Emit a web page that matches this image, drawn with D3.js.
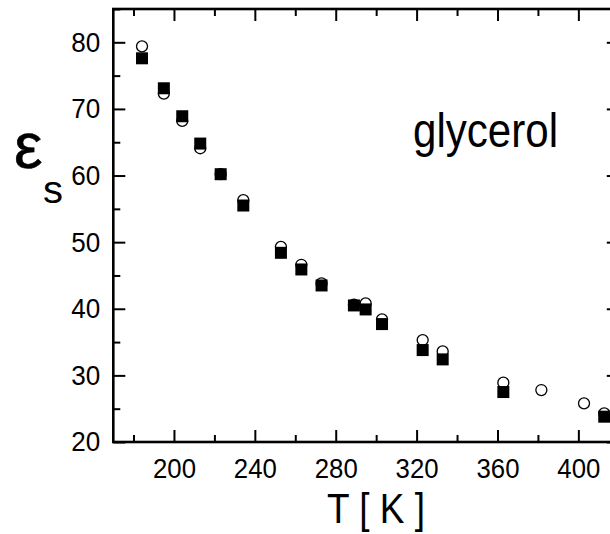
<!DOCTYPE html>
<html>
<head>
<meta charset="utf-8">
<script src="https://cdn.jsdelivr.net/npm/d3@7"></script>
<style>
  html, body { margin: 0; padding: 0; background: #fff; }
  svg { display: block; }
  text { font-family: "Liberation Sans", Arial, sans-serif; fill: #000; }
</style>
</head>
<body>
<svg id="chart" width="610" height="534"></svg>
<script>
// Static dielectric constant of glycerol vs temperature
const circleT   = [184.2, 195, 204.1, 213, 223.1, 234.3, 252.9, 263, 273, 289, 294.8, 302.9, 323, 332.9, 362.9, 381.7, 402.8, 412.8];
const circleEps = [79.4, 72.3, 68.2, 64.1, 60.2, 56.3, 49.3, 46.6, 43.8, 40.6, 40.8, 38.4, 35.3, 33.6, 28.9, 27.8, 25.8, 24.3];
const squareT   = [184.2, 195, 204.1, 213, 223.1, 234.3, 252.9, 263, 273, 289, 294.8, 302.9, 323, 332.9, 362.9, 412.8];
const squareEps = [77.6, 73.1, 68.9, 64.8, 60.2, 55.5, 48.4, 45.9, 43.5, 40.5, 39.9, 37.7, 33.8, 32.4, 27.5, 23.8];

const xMajor = [200, 240, 280, 320, 360, 400, 440];
const xMinor = [180, 220, 260, 300, 340, 380, 420];
const xLabels = ["200", "240", "280", "320", "360", "400"];
const yMajor = [20, 30, 40, 50, 60, 70, 80];
const yMinor = [25, 35, 45, 55, 65, 75, 85];

const svg = d3.select("#chart");
const plotL = 113.3, plotR = 618.8, plotT = 9, plotB = 442;

const x = d3.scaleLinear().domain([170, 420]).range([plotL, plotR]);
const y = d3.scaleLinear().domain([20, 85]).range([plotB, plotT]);

const tickFont = 28;

function styleAxis(g, withLabels) {
  g.select(".domain").remove();
  g.selectAll(".tick line").attr("stroke", "#000").attr("stroke-width", 2);
  if (!withLabels) g.selectAll(".tick text").remove();
}

// bottom axis
svg.append("g").attr("transform", `translate(0,${plotB})`)
  .call(d3.axisBottom(x).tickValues(xMajor).tickSize(-12).tickPadding(16)
    .tickFormat(d => xLabels.includes(String(d)) ? String(d) : ""))
  .call(g => styleAxis(g, true))
  .call(g => g.selectAll(".tick text")
    .attr("font-size", tickFont)
    .attr("font-family", "Liberation Sans, Arial, sans-serif")
    .attr("textLength", d => xLabels.includes(String(d)) ? 43 : null)
    .attr("lengthAdjust", "spacingAndGlyphs"));
svg.append("g").attr("transform", `translate(0,${plotB})`)
  .call(d3.axisBottom(x).tickValues(xMinor).tickSize(-7).tickFormat(""))
  .call(g => styleAxis(g, false));

// top axis
svg.append("g").attr("transform", `translate(0,${plotT})`)
  .call(d3.axisTop(x).tickValues(xMajor).tickSize(-12).tickFormat(""))
  .call(g => styleAxis(g, false));
svg.append("g").attr("transform", `translate(0,${plotT})`)
  .call(d3.axisTop(x).tickValues(xMinor).tickSize(-7).tickFormat(""))
  .call(g => styleAxis(g, false));

// left axis
svg.append("g").attr("transform", `translate(${plotL},0)`)
  .call(d3.axisLeft(y).tickValues(yMajor).tickSize(-12).tickPadding(13).tickFormat(d3.format("d")))
  .call(g => styleAxis(g, true))
  .call(g => g.selectAll(".tick text")
    .attr("font-size", tickFont)
    .attr("font-family", "Liberation Sans, Arial, sans-serif")
    .attr("textLength", 29)
    .attr("lengthAdjust", "spacingAndGlyphs"));
svg.append("g").attr("transform", `translate(${plotL},0)`)
  .call(d3.axisLeft(y).tickValues(yMinor).tickSize(-7).tickFormat(""))
  .call(g => styleAxis(g, false));

// right axis
svg.append("g").attr("transform", `translate(${plotR},0)`)
  .call(d3.axisRight(y).tickValues(yMajor).tickSize(-12).tickFormat(""))
  .call(g => styleAxis(g, false));
svg.append("g").attr("transform", `translate(${plotR},0)`)
  .call(d3.axisRight(y).tickValues(yMinor).tickSize(-7).tickFormat(""))
  .call(g => styleAxis(g, false));

// frame
svg.append("rect")
  .attr("x", plotL).attr("y", plotT)
  .attr("width", plotR - plotL).attr("height", plotB - plotT)
  .attr("fill", "none").attr("stroke", "#000").attr("stroke-width", 2.6);

// open circles
const circles = circleT.map((t, i) => ({ t, v: circleEps[i] }));
svg.append("g").selectAll("circle").data(circles).join("circle")
  .attr("cx", d => x(d.t)).attr("cy", d => y(d.v)).attr("r", 5.5)
  .attr("fill", "#fff").attr("stroke", "#000").attr("stroke-width", 1.3);

// filled squares
const squares = squareT.map((t, i) => ({ t, v: squareEps[i] }));
const sq = 12;
svg.append("g").selectAll("rect").data(squares).join("rect")
  .attr("x", d => x(d.t) - sq / 2).attr("y", d => y(d.v) - sq / 2)
  .attr("width", sq).attr("height", sq).attr("fill", "#000");

// sample label
svg.append("text").attr("x", 413).attr("y", 147)
  .attr("font-size", 48).attr("textLength", 145).attr("lengthAdjust", "spacingAndGlyphs")
  .text("glycerol");

// axis titles
svg.append("text").attr("x", 327).attr("y", 523)
  .attr("font-size", 42).attr("textLength", 98).attr("lengthAdjust", "spacingAndGlyphs")
  .text("T [ K ]");

svg.append("text").attr("x", 14).attr("y", 168)
  .attr("font-family", "Liberation Serif, Times New Roman, serif")
  .attr("font-size", 64)
  .attr("stroke", "#000").attr("stroke-width", 0.6)
  .text("ε");
svg.append("text").attr("x", 43).attr("y", 203)
  .attr("font-size", 38).attr("textLength", 20).attr("lengthAdjust", "spacingAndGlyphs")
  .text("s");
</script>
</body>
</html>
